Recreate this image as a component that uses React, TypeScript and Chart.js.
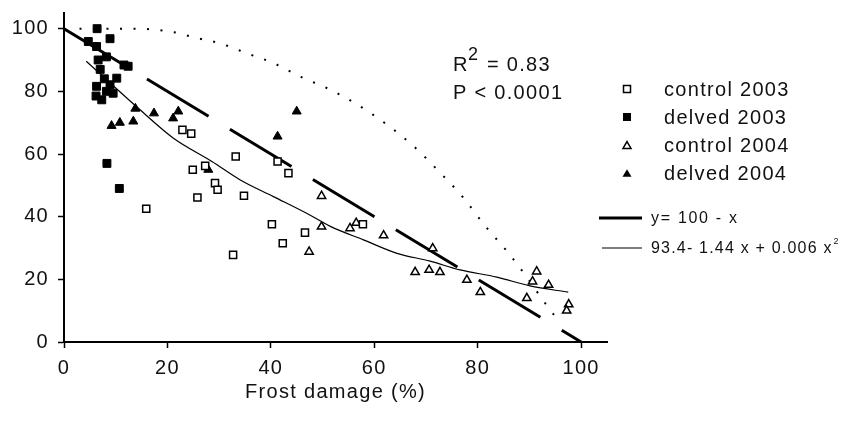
import React, { useEffect, useRef } from "react";
import { Chart, registerables } from "chart.js";

Chart.register(...registerables);

// ---- Data ----
const xTickValues = [0, 20, 40, 60, 80, 100];
const yTickValues = [0, 20, 40, 60, 80, 100];

const control2003: [number, number][] = [
  [22.9, 67.7], [24.6, 66.5], [33.2, 59.2], [24.9, 55], [27.3, 56.2], [29.2, 50.7],
  [29.7, 48.6], [25.8, 46.1], [34.8, 46.7], [15.9, 42.5], [41.3, 57.6], [43.4, 53.9],
  [40.2, 37.6], [46.6, 34.9], [42.3, 31.5], [32.7, 27.8], [57.8, 37.6],
];

const delved2003: [number, number][] = [
  [6.4, 100], [8.9, 96.8], [4.7, 95.9], [6.3, 94.3], [8.2, 91], [6.6, 90], [7, 87],
  [12.4, 88], [11.6, 88.4], [10.2, 84.2], [8.9, 82.1], [6.3, 81.6], [9.5, 79.4],
  [7.3, 77.3], [6.2, 78.5], [8.2, 80], [7.8, 84], [8.3, 57], [10.7, 49],
];

const control2004: [number, number][] = [
  [47.4, 28.8], [49.8, 46.6], [49.8, 36.8], [55.3, 36.3], [56.5, 38], [61.8, 34],
  [67.9, 22.3], [70.6, 23], [71.3, 29.9], [72.7, 22.3], [77.9, 19.8], [80.5, 15.9],
  [89.5, 14], [90.6, 19.3], [91.4, 22.5], [93.7, 18.2], [97.6, 12], [97.2, 10],
];

const delved2004: [number, number][] = [
  [9.2, 69], [10.8, 70], [13.4, 70.4], [13.8, 74.5], [17.4, 73], [21.1, 71.4],
  [22.1, 73.6], [27.9, 55], [41.3, 65.6], [45, 73.6],
];

const identityLine: [number, number][] = [[0, 100], [100, 0]];

const quadraticFit: [number, number][] = [
  [4.3, 89.6], [14.7, 74.1], [21.1, 65.1], [28.6, 57.6], [34, 51.8], [40.5, 46.4],
  [46.9, 41.1], [51.5, 36.9], [57.9, 32.6], [64.4, 28.3], [70.8, 25.8], [76.6, 23],
  [83.7, 20.7], [90.1, 17.9], [97.5, 15.9],
];

const dottedCurve: [number, number][] = [
  [3, 100], [8.8, 100], [13.9, 100], [19, 99.4], [22.1, 98.6], [24.9, 97.3], [30, 95.4],
  [35.6, 92], [40.8, 88.8], [45.8, 84.6], [51.4, 80.6], [56.6, 75.9], [62.1, 69.8],
  [67.6, 62.5], [72.4, 54.6], [77.2, 46.1], [81.4, 37.1], [85.9, 28.5], [89, 21.8],
  [93.7, 10.9], [95.7, 6.7],
];

const legendLabels = ["control 2003", "delved 2003", "control 2004", "delved 2004"];
const lineLabels = ["y= 100 - x", "93.4- 1.44 x + 0.006 x"];
const xTitle = "Frost damage (%)";
const statR2 = "= 0.83";
const statP = "P < 0.0001";

const FONT = '"Liberation Sans", Arial, sans-serif';
const SPACING = "1.3px";

const toPts = (arr: [number, number][]) => arr.map(([x, y]) => ({ x, y }));

function setSpacing(chart: any) {
  const ctx = chart.ctx as any;
  if (ctx) ctx.letterSpacing = SPACING;
}

const spacingPlugin = {
  id: "spacing",
  beforeInit: setSpacing,
  beforeUpdate: setSpacing,
  beforeLayout: setSpacing,
  beforeDraw: setSpacing,
};

function drawSquare(ctx: CanvasRenderingContext2D, x: number, y: number, s: number, filled: boolean) {
  if (filled) {
    ctx.fillStyle = "#000";
    ctx.fillRect(x - s / 2, y - s / 2, s, s);
  } else {
    ctx.fillStyle = "#fff";
    ctx.fillRect(x - s / 2, y - s / 2, s, s);
    ctx.lineWidth = 1.5;
    ctx.strokeStyle = "#000";
    ctx.strokeRect(x - s / 2, y - s / 2, s, s);
  }
}

function drawTriangle(ctx: CanvasRenderingContext2D, x: number, y: number, w: number, filled: boolean) {
  const h = w * 0.85;
  ctx.beginPath();
  ctx.moveTo(x, y - h / 2);
  ctx.lineTo(x + w / 2, y + h / 2);
  ctx.lineTo(x - w / 2, y + h / 2);
  ctx.closePath();
  if (filled) {
    ctx.fillStyle = "#000";
    ctx.fill();
  } else {
    ctx.fillStyle = "#fff";
    ctx.fill();
    ctx.lineWidth = 1.5;
    ctx.strokeStyle = "#000";
    ctx.stroke();
  }
}

const annotationPlugin = {
  id: "annot",
  afterDraw(chart: any) {
    const ctx = chart.ctx as CanvasRenderingContext2D;
    ctx.save();
    (ctx as any).letterSpacing = SPACING;
    ctx.fillStyle = "#111";
    ctx.textAlign = "left";
    ctx.textBaseline = "middle";

    // point legend
    const rows = [89, 117, 145, 173];
    const markerX = 627;
    drawSquare(ctx, markerX, rows[0], 7, false);
    drawSquare(ctx, markerX, rows[1], 8, true);
    drawTriangle(ctx, markerX, rows[2], 8, false);
    drawTriangle(ctx, markerX, rows[3], 9, true);
    ctx.fillStyle = "#111";
    ctx.font = `20px ${FONT}`;
    legendLabels.forEach((t, i) => ctx.fillText(t, 664, rows[i] + 1));

    // line legend
    ctx.strokeStyle = "#000";
    ctx.lineWidth = 3;
    ctx.beginPath();
    ctx.moveTo(599, 218);
    ctx.lineTo(642, 218);
    ctx.stroke();
    ctx.lineWidth = 1.2;
    ctx.beginPath();
    ctx.moveTo(602, 248);
    ctx.lineTo(642, 248);
    ctx.stroke();
    ctx.font = `16px ${FONT}`;
    (ctx as any).letterSpacing = "1.7px";
    ctx.fillText(lineLabels[0], 651, 219);
    (ctx as any).letterSpacing = "1.2px";
    ctx.fillText(lineLabels[1], 651, 249);
    const w = ctx.measureText(lineLabels[1]).width;
    ctx.font = `9px ${FONT}`;
    (ctx as any).letterSpacing = "0px";
    ctx.fillText("2", 651 + w + 1, 242);

    // statistics annotation
    ctx.textBaseline = "alphabetic";
    (ctx as any).letterSpacing = SPACING;
    ctx.font = `20px ${FONT}`;
    ctx.fillText("R", 453, 71);
    ctx.font = `18px ${FONT}`;
    ctx.fillText("2", 468, 60);
    ctx.font = `20px ${FONT}`;
    ctx.fillText(statR2, 487, 71);
    ctx.fillText(statP, 453, 99);
    ctx.restore();
  },
};

export default function App() {
  const ref = useRef<HTMLCanvasElement | null>(null);

  useEffect(() => {
    document.body.style.margin = "0";
    const canvas = ref.current;
    if (!canvas) return;

    const tickFont = { family: FONT, size: 20 };

    const chart = new Chart(canvas, {
      type: "scatter",
      data: {
        datasets: [
          {
            label: legendLabels[0],
            data: toPts(control2003),
            pointStyle: "rect",
            pointRadius: 5,
            backgroundColor: "#fff",
            borderColor: "#000",
            borderWidth: 1.5,
            order: 0,
          },
          {
            label: legendLabels[1],
            data: toPts(delved2003),
            pointStyle: "rect",
            pointRadius: 5.6,
            backgroundColor: "#000",
            borderColor: "#000",
            borderWidth: 1,
            order: 0,
          },
          {
            label: legendLabels[2],
            data: toPts(control2004),
            pointStyle: "triangle",
            pointRadius: 4.8,
            backgroundColor: "#fff",
            borderColor: "#000",
            borderWidth: 1.5,
            order: 0,
          },
          {
            label: legendLabels[3],
            data: toPts(delved2004),
            pointStyle: "triangle",
            pointRadius: 5.2,
            backgroundColor: "#000",
            borderColor: "#000",
            borderWidth: 1,
            order: 0,
          },
          {
            type: "line",
            label: lineLabels[0],
            data: toPts(identityLine),
            showLine: true,
            pointRadius: 0,
            borderColor: "#000",
            borderWidth: 3,
            borderDash: [72, 25],
            fill: false,
            order: 1,
          } as any,
          {
            type: "line",
            label: lineLabels[1],
            data: toPts(quadraticFit),
            showLine: true,
            pointRadius: 0,
            borderColor: "#000",
            borderWidth: 1.2,
            cubicInterpolationMode: "monotone",
            fill: false,
            order: 1,
          } as any,
          {
            type: "line",
            label: "curve",
            data: toPts(dottedCurve),
            showLine: true,
            pointRadius: 0,
            borderColor: "#000",
            borderWidth: 2,
            borderDash: [2, 11.5],
            cubicInterpolationMode: "monotone",
            fill: false,
            order: 1,
          } as any,
        ],
      },
      options: {
        animation: false,
        responsive: false,
        devicePixelRatio: 1,
        layout: { padding: { left: 0, right: 244, top: 13, bottom: 0 } },
        plugins: {
          legend: { display: false },
          tooltip: { enabled: false },
        },
        scales: {
          x: {
            type: "linear",
            min: 0,
            max: 105,
            afterBuildTicks: (s: any) => {
              s.ticks = xTickValues.map((v) => ({ value: v }));
            },
            afterFit: (s: any) => {
              s.height = 82;
              s.paddingLeft = 0;
              s.paddingRight = 0;
            },
            ticks: {
              font: tickFont,
              color: "#111",
              padding: 8,
              maxRotation: 0,
              autoSkip: false,
            },
            grid: {
              drawOnChartArea: false,
              drawTicks: true,
              tickLength: 6,
              tickColor: "#000",
              tickWidth: 1.5,
            },
            border: { display: true, color: "#000", width: 2 },
            title: {
              display: true,
              text: xTitle,
              font: tickFont,
              color: "#111",
              padding: { top: 4, bottom: 20 },
            },
          },
          y: {
            type: "linear",
            min: 0,
            max: 105,
            afterBuildTicks: (s: any) => {
              s.ticks = yTickValues.map((v) => ({ value: v }));
            },
            afterFit: (s: any) => {
              s.width = 64;
              s.paddingTop = 0;
              s.paddingBottom = 0;
            },
            ticks: {
              font: tickFont,
              color: "#111",
              padding: 9,
              autoSkip: false,
            },
            grid: {
              drawOnChartArea: false,
              drawTicks: true,
              tickLength: 6,
              tickColor: "#000",
              tickWidth: 1.5,
            },
            border: { display: true, color: "#000", width: 2 },
          },
        },
      } as any,
      plugins: [spacingPlugin, annotationPlugin],
    });

    return () => {
      chart.destroy();
    };
  }, []);

  return (
    <div style={{ width: 851, height: 424 }}>
      <canvas ref={ref} width={851} height={424} style={{ display: "block" }} />
    </div>
  );
}
